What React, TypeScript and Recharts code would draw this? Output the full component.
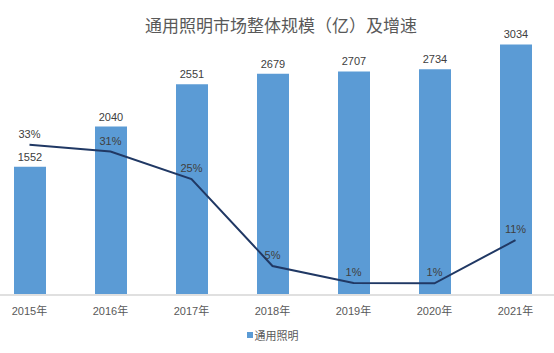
import React from 'react';
import { ComposedChart, Bar, Line, XAxis, YAxis, LabelList, Legend } from 'recharts';

const categories = ['2015年', '2016年', '2017年', '2018年', '2019年', '2020年', '2021年'];
const marketSize = [1552, 2040, 2551, 2679, 2707, 2734, 3034];
const growthRate = [33, 31.4, 25.05, 5.0, 1.05, 1.0, 10.97];

const data = categories.map((c, i) => ({ year: c, size: marketSize[i], growth: growthRate[i] }));

const FONT = '"Liberation Sans", Arial, "Noto Sans CJK SC", sans-serif';

const LegendContent = () => (
  <div style={{ display: 'flex', justifyContent: 'center', alignItems: 'center', fontFamily: FONT, fontSize: 11, color: '#595959', height: 22 }}>
    <span style={{ display: 'inline-block', width: 6, height: 6, background: '#5B9BD5', marginRight: 2 }} />
    <span>通用照明</span>
  </div>
);

export default function App() {
  return (
    <div style={{ position: 'absolute', left: 0, top: 0, width: 554, height: 353, overflow: 'hidden', background: '#fff' }}>
      <div style={{ position: 'absolute', left: 0, top: 16, width: 562, textAlign: 'center', fontFamily: FONT, fontSize: 17, color: '#595959', lineHeight: '22px' }}>
        通用照明市场整体规模（亿）及增速
      </div>
      <div style={{ position: 'absolute', left: -11, top: 0 }}>
        <ComposedChart width={567} height={353} data={data} margin={{ top: 6, right: 0, left: 0, bottom: 7 }}>
          <XAxis dataKey="year" axisLine={{ stroke: '#E0E0E0', strokeWidth: 2 }} tickLine={false} height={29} tickMargin={6}
            tick={{ fill: '#595959', fontSize: 11, fontFamily: FONT }} interval={0} />
          <YAxis yAxisId="left" hide domain={[0, 3500]} />
          <YAxis yAxisId="right" orientation="right" hide domain={[-1.7, 65]} />
          <Legend verticalAlign="bottom" height={22} content={() => <LegendContent />} />
          <Bar yAxisId="left" dataKey="size" name="通用照明" fill="#5B9BD5" barSize={32} isAnimationActive={false}>
            <LabelList dataKey="size" position="top" offset={6} style={{ fill: '#404040', fontSize: 11, fontFamily: FONT }} />
          </Bar>
          <Line yAxisId="right" dataKey="growth" type="linear" stroke="#203864" strokeWidth={2} dot={false} isAnimationActive={false} legendType="none">
            <LabelList dataKey="growth" position="top" offset={7} formatter={(v: number) => `${Math.round(v)}%`} style={{ fill: '#404040', fontSize: 11, fontFamily: FONT }} />
          </Line>
        </ComposedChart>
      </div>
    </div>
  );
}
